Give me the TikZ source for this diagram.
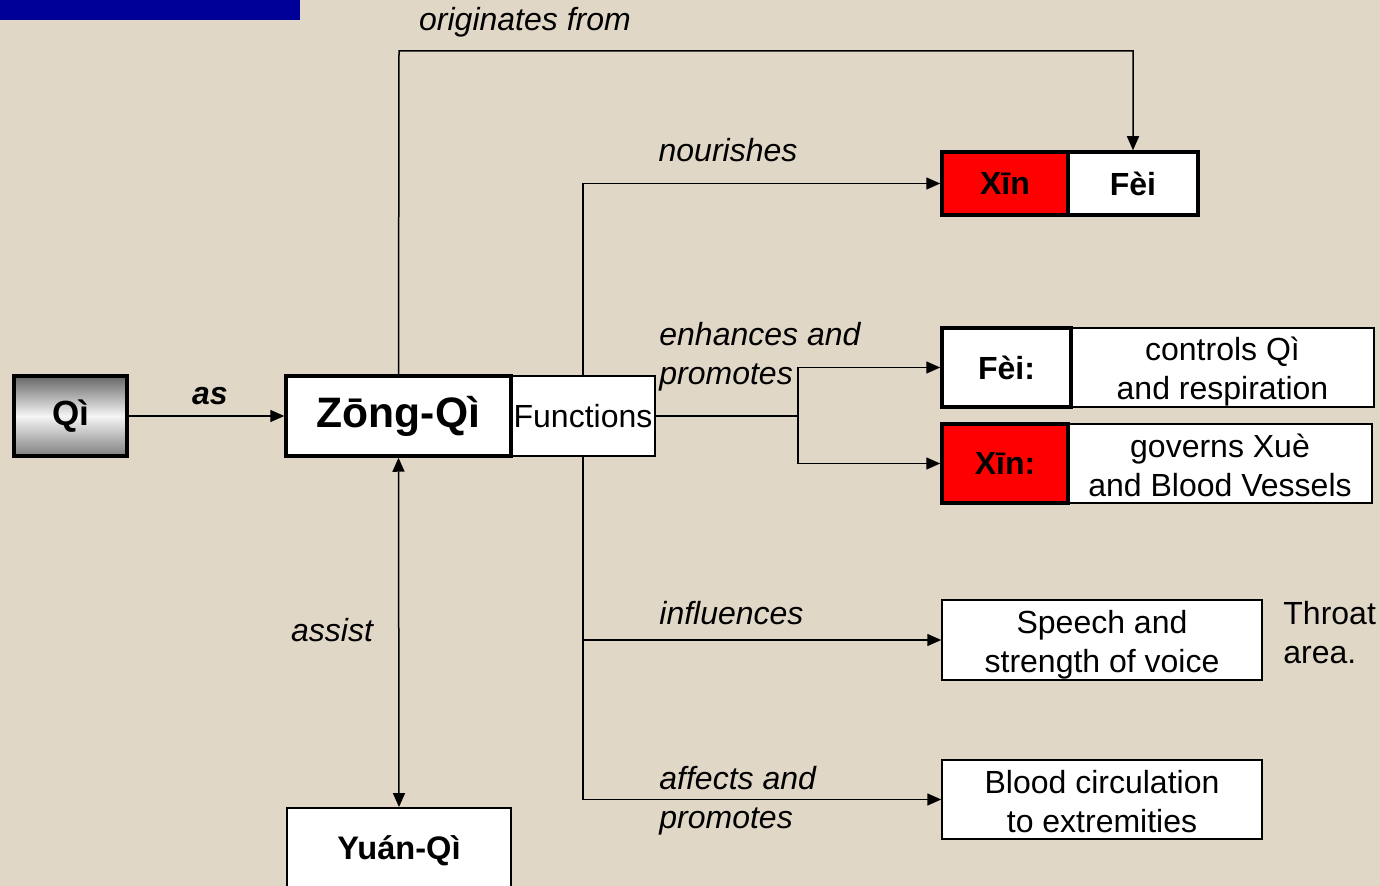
\documentclass[tikz,border=0pt]{standalone}
\usepackage{fontspec}
\setmainfont{Liberation Sans}
\usetikzlibrary{arrows.meta}
\definecolor{paper}{RGB}{224,215,199}
\definecolor{titleblue}{RGB}{0,0,153}
\definecolor{organred}{RGB}{255,0,0}

\begin{document}
\begin{tikzpicture}[x=0.5pt,y=-0.5pt,
  box/.style={draw=black, fill=white, line width=0.75pt, inner sep=0pt, align=center,
    font=\fontsize{16}{19.5}\selectfont},
  heavy/.style={box, line width=1.75pt, font=\fontsize{16}{19.5}\selectfont\bfseries},
  boxtext/.style={inner sep=0pt, align=center, font=\fontsize{16}{19.5}\selectfont},
  lbl/.style={font=\fontsize{16}{19.5}\selectfont\itshape, inner sep=0pt, align=left},
  wire/.style={line width=0.75pt},
  link/.style={wire, -{Triangle[length=7pt,width=6pt]}},
  twolink/.style={wire, {Triangle[length=7pt,width=6pt]}-{Triangle[length=7pt,width=6pt]}}]

  % page and background
  \useasboundingbox (0,0) rectangle (1380,886);
  \clip (0,0) rectangle (1380,886);
  \fill[paper] (0,0) rectangle (1380,886);

  % title bar at the top left
  \fill[titleblue] (0,-5) rectangle (300,20);

  % main chain
  \node[heavy, minimum width=56.5pt, minimum height=40pt,
        top color=black!60, bottom color=black!50, middle color=black!4,
        font=\fontsize{17.5}{20}\selectfont\bfseries] (qi) at (70.5,416) {Qì};
  \node[box, minimum width=72pt, minimum height=40pt] (func) at (583,416) {Functions};
  \node[heavy, minimum width=112.5pt, minimum height=40pt,
        font=\fontsize{21.3}{24}\selectfont\bfseries] (zong) at (398.5,416) {Zōng-Qì};
  \node[heavy, line width=0.9pt, minimum width=112pt, minimum height=40pt] (yuan) at (399,848) {};
  \node[boxtext, font=\fontsize{16.3}{19.5}\selectfont\bfseries] (yuantext) at (399,851) {Yuán-Qì};

  % organ pair at the top
  \node[heavy, fill=organred, minimum width=63pt, minimum height=31.5pt] (xintop) at (1005,183.5) {Xīn};
  \node[heavy, minimum width=65pt, minimum height=31.5pt] (feitop) at (1133,183.5) {Fèi};

  % organ functions
  \node[box, minimum width=151.5pt, minimum height=39.5pt] (feibox) at (1222.5,367.5) {};
  \node[boxtext] (feitext) at (1222.5,372) {controls Qì\\and respiration};
  \node[heavy, minimum width=64.5pt, minimum height=39.5pt] (fei) at (1006.5,367.5) {Fèi:};
  \node[box, minimum width=152pt, minimum height=39.5pt] (xinbox) at (1220,463.5) {};
  \node[boxtext] (xintext) at (1220,465.5) {governs Xuè\\and Blood Vessels};
  \node[heavy, fill=organred, minimum width=63pt, minimum height=39.5pt] (xin) at (1005,463.5) {Xīn:};

  \node[box, minimum width=160pt, minimum height=40pt] (speech) at (1102,640) {};
  \node[boxtext] (speechtext) at (1102,645) {Speech and\\strength of voice};
  \node[box, minimum width=160pt, minimum height=39.5pt] (blood) at (1102,799.5) {};
  \node[boxtext] (bloodtext) at (1102,801.5) {Blood circulation\\to extremities};

  % connectors
  \draw[link] (qi.east) -- (zong.west);
  \coordinate (topbend) at (399,51);
  \draw[link] (zong.north) -- (topbend) -| (feitop.north);
  \draw[link] (func.north) |- (xintop.west);
  \coordinate (split) at (798,416);
  \draw[wire] (func.east) -- (split);
  \draw[link] (split) |- (fei.west);
  \draw[link] (split) |- (xin.west);
  \draw[link] (func.south) |- (speech.west);
  \draw[link] (func.south) |- (blood.west);
  \draw[twolink] (zong.south) -- (yuan.north);

  % labels
  \node[lbl, font=\fontsize{16}{19.5}\selectfont\bfseries\itshape] (aslbl) at (210,396) {as};
  \node[lbl] (origlbl) at (525,22) {originates from};
  \node[lbl] (nourlbl) at (728,150) {nourishes};
  \node[lbl, anchor=west] (enhlbl) at (659,357) {enhances and\\promotes};
  \node[lbl, anchor=west] (inflbl) at (659,613) {influences};
  \node[lbl, anchor=west] (afflbl) at (659,801) {affects and\\promotes};
  \node[lbl] (assistlbl) at (332,630) {assist};
  \node[lbl, font=\fontsize{16}{19.5}\selectfont, anchor=west] (throat) at (1283,633) {Throat\\area.};
\end{tikzpicture}
\end{document}
